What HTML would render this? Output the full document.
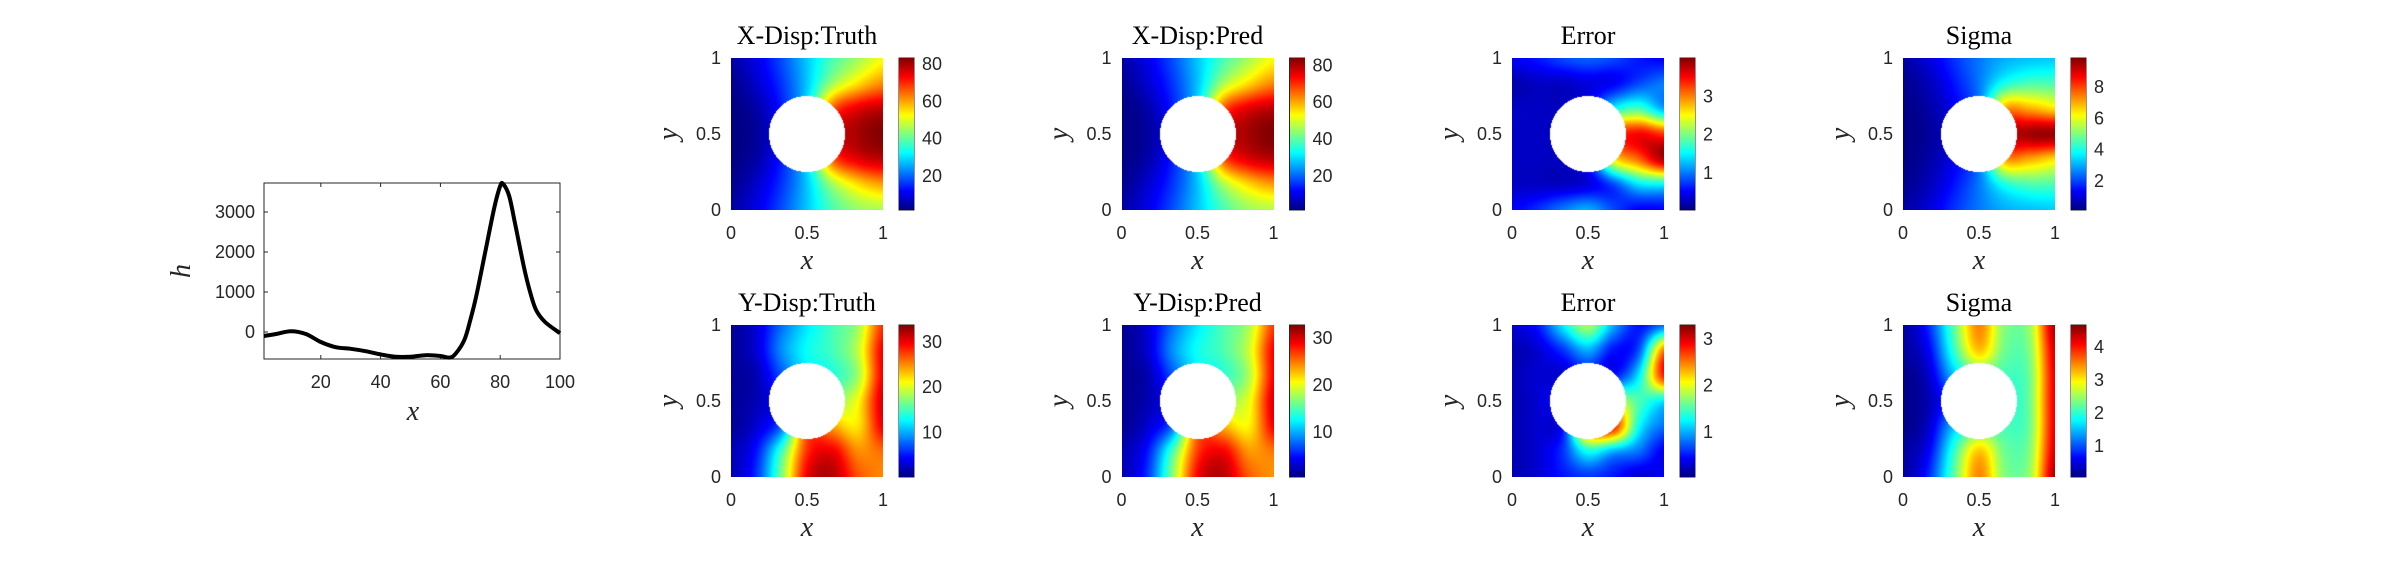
<!DOCTYPE html>
<html><head><meta charset="utf-8"><style>
html,body{margin:0;padding:0;background:#fff;}
#root{position:relative;width:2400px;height:563px;overflow:hidden;background:#fff;}
canvas{position:absolute;}
svg{position:absolute;left:0;top:0;}
</style></head><body>
<div id="root">
<svg id="svg" width="2400" height="563"></svg>
</div>
<script>
// ---- line chart data ----
const hX = [1,5,10,15,20,25,30,35,40,45,50,55,60,63,65,68,70,72,75,78,80,81,83,85,88,90,92,95,100];
const hY = [-100,-50,20,-50,-250,-380,-420,-480,-560,-620,-620,-580,-600,-640,-550,-200,300,900,2000,3100,3650,3700,3400,2700,1600,1000,550,250,-30];
const hXTicks = [20,40,60,80,100];
const hYTicks = [0,1000,2000,3000];

// ---- field grids (7x7, rows from y=1 top to y=0 bottom, cols x=0..1) ----
const gridXTruth = [
[5,10,18,28,38,45,52],[3,8,16,28,45,55,62],[2,5,14,30,65,75,78],[2,4,12,30,72,80,83],
[2,5,14,30,65,75,78],[3,8,16,28,45,55,60],[5,10,18,28,38,44,46]];
const gridXPred = [
[5,10,18,28,38,46,53],[3,8,16,28,46,56,63],[2,5,14,30,66,76,79],[2,4,12,30,73,81,84],
[2,5,14,30,66,76,79],[3,8,16,28,46,56,61],[5,10,18,28,38,45,47]];
const gridXErr = [
[0.5,0.6,0.8,0.9,0.8,0.6,0.5],[0.2,0.3,0.3,0.4,0.5,0.8,1.0],[0.3,0.3,0.3,0.5,1.5,1.8,1.2],
[0.3,0.3,0.3,0.5,3.0,3.5,3.3],[0.3,0.3,0.3,0.6,2.5,3.1,3.8],[0.3,0.3,0.3,0.4,0.8,1.4,1.5],
[0.5,0.7,1.0,1.2,0.8,0.5,0.5]];
const gridXSig = [
[0.5,1,1.8,2.5,3,3.2,3.3],[0.3,0.7,1.5,2.5,4,4.5,4.5],[0.2,0.5,1.2,2.5,7,7,6.5],
[0.2,0.4,1,2.5,8.5,9.5,9.6],[0.2,0.5,1.2,2.5,7,7,6.5],[0.3,0.7,1.5,2.5,4,4.5,4.5],
[0.5,1,1.8,2.5,3,3.2,3.3]];
const gridYTruth = [
[1,3,8,12,15,18,28],[1,3,9,13,15,19,30],[1,2,7,12,14,18,30],[1,2,5,12,17,21,31],
[1,3,8,25,24,22,30],[2,5,15,28,30,25,26],[2,6,17,30,32,27,25]];
const gridYPred = [
[1,3,8,12,15,18,27],[1,3,9,13,15,19,29],[1,2,7,12,14,18,29],[1,2,5,12,17,20,30],
[1,3,8,24,23,21,29],[2,5,15,27,29,24,25],[2,6,17,29,31,26,24]];
const gridYErr = [
[0.3,0.5,1.2,1.8,1.0,0.5,0.8],[0.2,0.3,0.6,1.0,0.5,0.7,2.5],[0.2,0.3,0.3,0.5,0.5,1.2,2.8],
[0.2,0.3,0.5,0.5,1.8,1.5,1.2],[0.2,0.3,0.5,2.5,2.8,1.3,0.8],[0.2,0.3,0.6,1.3,1.0,0.8,0.4],
[0.2,0.3,0.5,0.6,0.5,0.3,0.4]];
const gridYSig = [
[0.2,0.8,2.2,3.5,2.4,2.5,4.5],[0.2,0.6,2,3.2,2.3,2.4,4.3],[0.1,0.4,1.5,2.2,2.1,2.3,4.2],
[0.1,0.3,1,2,2,2.3,4.2],[0.1,0.4,1.5,2.2,2.1,2.3,4.2],[0.2,0.6,2,3.2,2.3,2.4,4.3],
[0.2,0.8,2.2,3.5,2.4,2.5,4.5]];
const panelTitles = ["X-Disp:Truth","X-Disp:Pred","Error","Sigma","Y-Disp:Truth","Y-Disp:Pred","Error","Sigma"];
const colorRanges = [[1.8,83.2],[1.5,84],[0.03,4.0],[0.15,9.85],[0.2,33.7],[0.4,32.8],[0.04,3.3],[0.06,4.67]];
const cbTicks = [[20,40,60,80],[20,40,60,80],[1,2,3],[2,4,6,8],[10,20,30],[10,20,30],[1,2,3],[1,2,3,4]];
const axisTicks = [0,0.5,1];
const grids = [gridXTruth,gridXPred,gridXErr,gridXSig,gridYTruth,gridYPred,gridYErr,gridYSig];

const NS="http://www.w3.org/2000/svg";
const svg=document.getElementById('svg');
const root=document.getElementById('root');
const TXT="#262626";
const FS=18;
function el(tag,attrs,parent){const e=document.createElementNS(NS,tag);for(const k in attrs)e.setAttribute(k,attrs[k]);(parent||svg).appendChild(e);return e;}
function text(x,y,s,attrs,name){const t=el('text',Object.assign({x:x,y:y,fill:TXT,'font-family':'"Liberation Sans",sans-serif','font-size':FS},attrs));t.textContent=s;


return t;}

// ---- line chart ----
const L={x0:264,x1:560,y0:183,y1:359,xmin:1,xmax:100,ymin:-675,ymax:3725};
function sx(v){return L.x0+(v-L.xmin)/(L.xmax-L.xmin)*(L.x1-L.x0);}
function sy(v){return L.y1-(v-L.ymin)/(L.ymax-L.ymin)*(L.y1-L.y0);}
const frame=el('rect',{x:L.x0,y:L.y0,width:L.x1-L.x0,height:L.y1-L.y0,fill:'none',stroke:TXT,'stroke-width':1});


hXTicks.forEach(v=>{const X=sx(v);
 el('line',{x1:X,x2:X,y1:L.y1,y2:L.y1-4,stroke:TXT});el('line',{x1:X,x2:X,y1:L.y0,y2:L.y0+4,stroke:TXT});
 text(X,L.y1+29,String(v),{'text-anchor':'middle'},'x-tick-label');});
hYTicks.forEach(v=>{const Y=sy(v);
 el('line',{x1:L.x0,x2:L.x0+4,y1:Y,y2:Y,stroke:TXT});el('line',{x1:L.x1,x2:L.x1-4,y1:Y,y2:Y,stroke:TXT});
 text(L.x0-9,Y+6,String(v),{'text-anchor':'end'},'y-tick-label');});
let pts=hX.map((x,i)=>[sx(x),sy(hY[i])]);
let d='M'+pts[0][0]+','+pts[0][1];
for(let i=0;i<pts.length-1;i++){const p0=pts[Math.max(0,i-1)],p1=pts[i],p2=pts[i+1],p3=pts[Math.min(pts.length-1,i+2)];
 d+=' C'+(p1[0]+(p2[0]-p0[0])/6)+','+(p1[1]+(p2[1]-p0[1])/6)+' '+(p2[0]-(p3[0]-p1[0])/6)+','+(p2[1]-(p3[1]-p1[1])/6)+' '+p2[0]+','+p2[1];}
const hl=el('path',{d:d,fill:'none',stroke:'#000','stroke-width':4,'stroke-linejoin':'round'});


text(413,420,'x',{'text-anchor':'middle','font-family':'"Liberation Serif",serif','font-style':'italic','font-size':28},'x-axis-title');
text(0,0,'h',{'text-anchor':'middle','font-family':'"Liberation Serif",serif','font-style':'italic','font-size':28,transform:'translate(190,271) rotate(-90)'},'y-axis-title');

// ---- heatmaps ----
function jet(t){t=Math.max(0,Math.min(1,t));const c=v=>Math.max(0,Math.min(1,v));
 return [c(1.5-Math.abs(4*t-3))*255,c(1.5-Math.abs(4*t-2))*255,c(1.5-Math.abs(4*t-1))*255];}
function cr(p0,p1,p2,p3,t){return 0.5*((2*p1)+(-p0+p2)*t+(2*p0-5*p1+4*p2-p3)*t*t+(-p0+3*p1-3*p2+p3)*t*t*t);}
function sample(G,u,v){const n=G.length;const cl=i=>Math.max(0,Math.min(n-1,i));
 const i=Math.min(n-2,Math.floor(v)),j=Math.min(n-2,Math.floor(u));const fv=v-i,fu=u-j;
 const rows=[];for(let a=-1;a<=2;a++){const R=G[cl(i+a)];rows.push(cr(R[cl(j-1)],R[cl(j)],R[cl(j+1)],R[cl(j+2)],fu));}
 return cr(rows[0],rows[1],rows[2],rows[3],fv);}
const lefts=[731,1121.5,1512,1903],tops=[58,325],S=152;
for(let k=0;k<8;k++){
 const L0=lefts[k%4],T0=tops[Math.floor(k/4)],G=grids[k],rg=colorRanges[k];
 const cv=document.createElement('canvas');cv.width=S;cv.height=S;cv.style.left=L0+'px';cv.style.top=T0+'px';
 
 
 root.appendChild(cv);const ctx=cv.getContext('2d');const img=ctx.createImageData(S,S);
 for(let py=0;py<S;py++)for(let px=0;px<S;px++){const o=(py*S+px)*4;
  const fx=(px+0.5)/S,fy=(py+0.5)/S;let col;
  if((fx-0.5)**2+(fy-0.5)**2<0.0625)col=[255,255,255];
  else col=jet((sample(G,fx*6,fy*6)-rg[0])/(rg[1]-rg[0]));
  img.data[o]=col[0];img.data[o+1]=col[1];img.data[o+2]=col[2];img.data[o+3]=255;}
 ctx.putImageData(img,0,0);
 // colorbar
 const cb=document.createElement('canvas');cb.width=15;cb.height=S;cb.style.left=(L0+168)+'px';cb.style.top=T0+'px';
 
 
 root.appendChild(cb);const c2=cb.getContext('2d');
 for(let py=0;py<S;py++){const c=jet(1-(py+0.5)/S);c2.fillStyle='rgb('+c.map(Math.round).join(',')+')';c2.fillRect(0,py,15,1);}
 el('rect',{x:L0+168,y:T0,width:15,height:S,fill:'none',stroke:TXT,'stroke-width':1});
 cbTicks[k].forEach(v=>{const Y=T0+S-(v-rg[0])/(rg[1]-rg[0])*S;
  el('line',{x1:L0+168,x2:L0+171,y1:Y,y2:Y,stroke:TXT});el('line',{x1:L0+183,x2:L0+180,y1:Y,y2:Y,stroke:TXT});
  text(L0+191,Y+6,String(v),{'text-anchor':'start'},'colorbar-tick-label');});
 // axes ticks
 axisTicks.forEach(v=>{const X=L0+v*S,Y=T0+S-v*S;
  text(X,T0+S+29,String(v),{'text-anchor':'middle'},'x-tick-label');
  text(L0-10,Y+6,String(v),{'text-anchor':'end'},'y-tick-label');});
 text(L0+S/2,T0-14,panelTitles[k],{'text-anchor':'middle','font-family':'"Liberation Serif",serif','font-size':26,fill:'#000'},'panel-title');
 text(L0+S/2,T0+S+59,'x',{'text-anchor':'middle','font-family':'"Liberation Serif",serif','font-style':'italic','font-size':28},'x-axis-title');
 text(0,0,'y',{'text-anchor':'middle','font-family':'"Liberation Serif",serif','font-style':'italic','font-size':28,transform:'translate('+(L0-54)+','+(T0+S/2)+') rotate(-90)'},'y-axis-title');
}
</script>
</body></html>
